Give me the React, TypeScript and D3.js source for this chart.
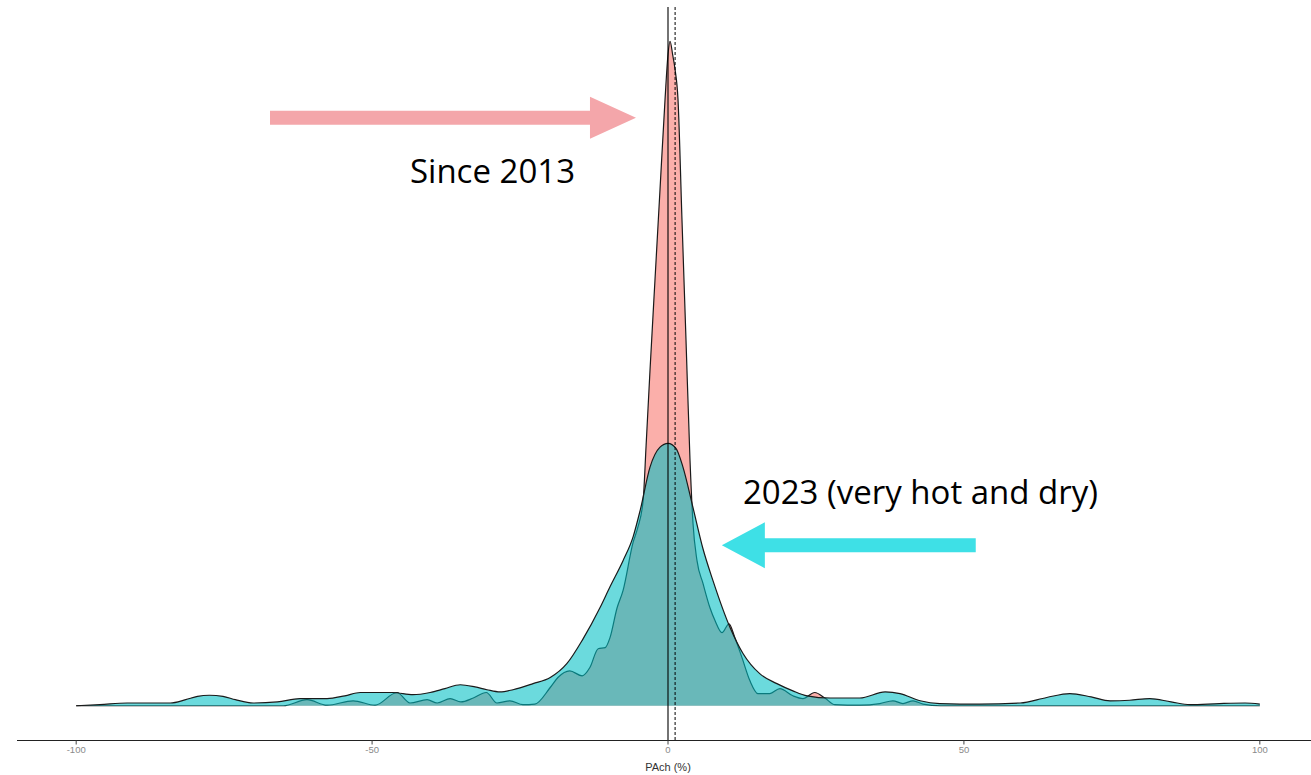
import React from "react";
import * as d3 from "d3";

// PAch (%) grid + kernel density, "Since 2013"
const sinceX = [
  -100, -65, -61.0, -57.6, -53.2, -49.5, -45.8, -43.6, -40.7, -39.0, -36.8, -35.0, -32.9, -30.7,
  -28.9, -26.7, -24.5, -22.5, -19.9, -18.6, -16.6, -14.5, -13.2, -11.8, -10.6, -9.8, -8.6, -7.6,
  -5.9, -5.1, -4.2, -3.7, -3.04, -2.2, -1.35, -0.5, 0, 0.34, 0.8, 1.18, 1.69, 2.36, 3.04, 3.72,
  4.22, 4.9, 5.91, 7.09, 7.94, 9.12, 10.3, 11.3, 12.5, 13.85, 15.2, 17.2, 18.9, 21.1, 22.8, 24.8,
  26.5, 28.2, 32.4, 35.8, 38.0, 39.7, 41.4, 43.1, 46, 100,
];
const sinceDensity = [
  0, 0, 0.0011, 0.0001, 0.0009, 0.0001, 0.0024, 0.0005, 0.0011, 0.0005, 0.0013, 0.0007, 0.0014, 0.0024,
  0.0005, 0.0009, 0.0002, 0.0003, 0.0033, 0.0051, 0.0063, 0.0054, 0.0069, 0.0103, 0.0105, 0.0123, 0.0177, 0.0208,
  0.0295, 0.0322, 0.0371, 0.047, 0.0606, 0.0769, 0.0932, 0.1095, 0.1176, 0.12, 0.1175, 0.115, 0.1095, 0.0878, 0.0661, 0.0443,
  0.033, 0.0262, 0.0221, 0.0177, 0.0154, 0.0132, 0.0148, 0.0123, 0.0087, 0.0045, 0.0022, 0.0022, 0.0031, 0.0018, 0.0013, 0.0024,
  0.0014, 0.0002, 0.0001, 0.0004, 0.0009, 0.0004, 0.0009, 0.0003, 0, 0,
];

// "2023 (very hot and dry)"
const y2023X = [
  -100, -96, -91.4, -88.7, -84.1, -81.5, -79.5, -77.5, -75.2, -73.1, -70.1, -66, -62.2, -57.6, -54.6, -52,
  -46.5, -43.1, -40.2, -37.7, -35.1, -32.6, -30.6, -28.4, -26.2, -22.8, -19.9, -17.1, -14.4, -11.5,
  -9.8, -7.6, -5.9, -4.7, -3.04, -1.35, 0, 1.35, 2.53, 4.22, 5.9, 7.6, 10.5, 12.7, 15.5, 18.4, 21.1,
  23.5, 27.4, 32.4, 36.7, 39.2, 42.6, 45.9, 52.7, 59.5, 64, 67.9, 71.5, 74.7, 78, 81.4, 85, 88.2,
  93.2, 97.5, 100,
];
const y2023Density = [
  0, 0.0002, 0.0005, 0.0005, 0.0005, 0.0011, 0.0017, 0.0019, 0.0017, 0.0011, 0.0005, 0.0007, 0.0013, 0.0013, 0.0018, 0.0024,
  0.0024, 0.002, 0.0024, 0.0031, 0.0038, 0.0034, 0.0029, 0.0025, 0.0029, 0.004, 0.0051, 0.0076, 0.012, 0.0177,
  0.0215, 0.0262, 0.0305, 0.0353, 0.0431, 0.0467, 0.0474, 0.0465, 0.0431, 0.0358, 0.0284, 0.0226, 0.0141, 0.0094, 0.0058, 0.004, 0.0027,
  0.0018, 0.0014, 0.0014, 0.0025, 0.0022, 0.0009, 0.0004, 0.0003, 0.0005, 0.0015, 0.0022, 0.0016, 0.0009, 0.001, 0.0013, 0.0007, 0.0002,
  0.0004, 0.0005, 0.0003,
];

const xTicks = [-100, -50, 0, 50, 100];
const solidLineAt = 0;
const dashedLineAt = 1.2;

const W = 1311;
const H = 775;

const x = d3.scaleLinear().domain([-110, 110]).range([17, 1319]);
const y = d3.scaleLinear().domain([-0.006, 0.126]).range([739, 8]);

type Pt = [number, number];
const sinceData: Pt[] = sinceX.map((v, i) => [v, sinceDensity[i]]);
const data2023: Pt[] = y2023X.map((v, i) => [v, y2023Density[i]]);

const area = d3
  .area<Pt>()
  .x((d) => x(d[0]))
  .y0(y(0))
  .y1((d) => y(d[1]))
  .curve(d3.curveMonotoneX);
const line = d3
  .line<Pt>()
  .x((d) => x(d[0]))
  .y((d) => y(d[1]))
  .curve(d3.curveMonotoneX);

// block arrow: from tail to tip, in data units
function arrowPath(from: Pt, to: Pt, shaft: number, headLen: number, headHalf: number) {
  const x0 = x(from[0]);
  const x1 = x(to[0]);
  const cy = y(to[1]);
  const dir = x1 > x0 ? 1 : -1;
  const xb = x1 - dir * headLen;
  const s = shaft / 2;
  return `M${x0},${cy - s}L${xb},${cy - s}L${xb},${cy - headHalf}L${x1},${cy}L${xb},${cy + headHalf}L${xb},${cy + s}L${x0},${cy + s}Z`;
}

export default function App() {
  const axisY = 740.5;
  return (
    <svg
      width={W}
      height={H}
      style={{ position: "absolute", left: 0, top: 0, background: "#fff" }}
    >
      {/* densities */}
      <path d={area(sinceData) ?? ""} fill="#F8766D" fillOpacity={0.58} />
      <path d={line(sinceData) ?? ""} fill="none" stroke="#1a1a1a" strokeWidth={1.2} />
      <path d={area(data2023) ?? ""} fill="#00BFC4" fillOpacity={0.58} />
      <path d={line(data2023) ?? ""} fill="none" stroke="#1a1a1a" strokeWidth={1.2} />

      {/* reference lines */}
      <line x1={x(solidLineAt)} x2={x(solidLineAt)} y1={7} y2={axisY} stroke="#000" strokeWidth={1.1} />
      <line
        x1={x(dashedLineAt)}
        x2={x(dashedLineAt)}
        y1={7}
        y2={axisY}
        stroke="#000"
        strokeWidth={1}
        strokeDasharray="3,2"
      />

      {/* x axis */}
      <line x1={17} x2={W} y1={axisY} y2={axisY} stroke="#222" strokeWidth={1.2} />
      {xTicks.map((t) => (
        <g key={t} transform={`translate(${x(t)},${axisY})`}>
          <line y1={0} y2={4} stroke="#444" strokeWidth={1} />
          <text
            y={12}
            textAnchor="middle"
            fontFamily="Liberation Sans, Arial, sans-serif"
            fontSize={9.5}
            fill="#8a8a8a"
          >
            {t}
          </text>
        </g>
      ))}
      <text
        x={x(0)}
        y={771}
        textAnchor="middle"
        fontFamily="Liberation Sans, Arial, sans-serif"
        fontSize={11}
        fill="#333"
      >
        PAch (%)
      </text>

      {/* annotations */}
      <path d={arrowPath([-67.25, 0.1062], [-5.41, 0.1062], 14, 46, 21)} fill="#F4A6AA" />
      <text x={x(-43.6)} y={y(0.0944)} fontFamily="Open Sans, sans-serif" fontSize={33} fill="#000">
        Since 2013
      </text>
      <path d={arrowPath([52.0, 0.029], [9.1, 0.029], 14, 43, 23)} fill="#3EE0E6" />
      <text x={x(12.67)} y={y(0.0364)} fontFamily="Open Sans, sans-serif" fontSize={33} fill="#000">
        2023 (very hot and dry)
      </text>
    </svg>
  );
}
